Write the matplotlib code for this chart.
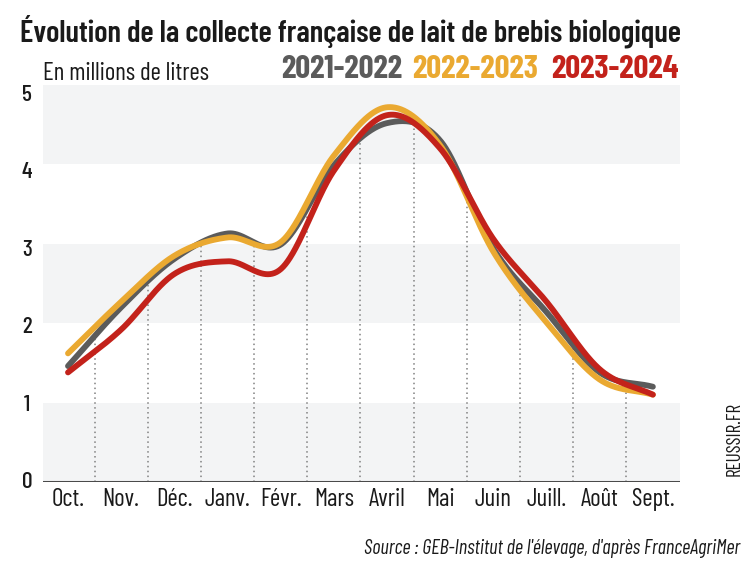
import numpy as np
import matplotlib
matplotlib.use("Agg")
import matplotlib.pyplot as plt
from matplotlib import font_manager

months = ["Oct.", "Nov.", "Déc.", "Janv.", "Févr.", "Mars", "Avril", "Mai", "Juin", "Juill.", "Août", "Sept."]
s2021 = [1.46, 2.20, 2.81, 3.13, 2.99, 3.99, 4.52, 4.30, 2.94, 2.14, 1.38, 1.20]
s2022 = [1.62, 2.27, 2.85, 3.08, 3.02, 4.11, 4.72, 4.24, 2.90, 2.01, 1.29, 1.10]
s2023 = [1.38, 1.92, 2.62, 2.78, 2.68, 3.92, 4.62, 4.20, 3.06, 2.27, 1.42, 1.10]
series_labels = ["2021-2022", "2022-2023", "2023-2024"]
colors = ["#5b5b5b", "#eaa931", "#c3221b"]
yticks = [0, 1, 2, 3, 4, 5]

names = {f.name for f in font_manager.fontManager.ttflist}
FONT = "Barlow Condensed" if "Barlow Condensed" in names else "DejaVu Sans"


def catmull_rom(x, y, xs):
    x = np.asarray(x, float); y = np.asarray(y, float)
    n = len(x)
    m = np.zeros(n)
    m[1:-1] = (y[2:] - y[:-2]) / (x[2:] - x[:-2])
    m[0] = (y[1] - y[0]) / (x[1] - x[0])
    m[-1] = (y[-1] - y[-2]) / (x[-1] - x[-2])
    out = np.empty(len(xs))
    for k, t in enumerate(xs):
        i = min(max(np.searchsorted(x, t) - 1, 0), n - 2)
        h = x[i + 1] - x[i]
        s = (t - x[i]) / h
        h00 = 2 * s**3 - 3 * s**2 + 1
        h10 = s**3 - 2 * s**2 + s
        h01 = -2 * s**3 + 3 * s**2
        h11 = s**3 - s**2
        out[k] = h00 * y[i] + h10 * h * m[i] + h01 * y[i + 1] + h11 * h * m[i + 1]
    return out


fig = plt.figure(figsize=(7.47, 5.61), dpi=100)
ax = fig.add_axes([43 / 747, 1 - 482 / 561, (680 - 43) / 747, (482 - 85) / 561])
ax.set_xlim(-0.47, 11.51)
ax.set_ylim(0, 5)

for lo in [0, 2, 4]:
    ax.axhspan(lo, lo + 1, color="#f3f4f5", lw=0, zorder=0)

xi = np.arange(len(months))
xs = np.linspace(0, len(months) - 1, 800)

mids = xi[:-1] + 0.5
mid_vals = catmull_rom(xi, s2021, mids)
for m, v in zip(mids, mid_vals):
    ax.plot([m, m], [0, v], ls=(0, (1, 2.2)), color="#808080", lw=1.1, zorder=1)

for data, col in zip([s2021, s2022, s2023], colors):
    ax.plot(xs, catmull_rom(xi, data, xs), color=col, lw=4.2,
            solid_capstyle="round", zorder=3)

for s in ax.spines.values():
    s.set_visible(False)
ax.axhline(0, color="#4a4a4a", lw=2.2, zorder=4)
ax.set_xticks([]); ax.set_yticks([])

for i, m in enumerate(months):
    ax.text(i, -0.08, m, ha="center", va="top", fontsize=18, family=FONT, color="#1a1a1a")

for t in yticks:
    ax.text(-0.77, t * 0.975, str(t), ha="center", va="center", fontsize=17,
            family=FONT, fontweight="medium", color="#1a1a1a")

fig.text(20 / 747, 1 - 31 / 561, "Évolution de la collecte française de lait de brebis biologique",
         fontsize=22.2, family=FONT, fontweight="semibold", color="#1a1a1a", va="center", ha="left")
fig.text(43 / 747, 1 - 73 / 561, "En millions de litres", fontsize=18, family=FONT,
         color="#1a1a1a", va="center", ha="left")
xpos = [281, 412, 551]
for xp, lab, col in zip(xpos, series_labels, colors):
    fig.text(xp / 747, 1 - 69 / 561, lab, fontsize=23.5, family=FONT, fontweight="bold",
             color=col, va="center", ha="left")

fig.text(735 / 747, 1 - 439 / 561, "REUSSIR.FR", rotation=90, fontsize=13.8, family=FONT,
         color="#1a1a1a", va="center", ha="center")
fig.text(740 / 747, 1 - 549 / 561, "Source : GEB-Institut de l'élevage, d'après FranceAgriMer",
         fontsize=14.6, family=FONT, style="italic", color="#1a1a1a", va="center", ha="right")

fig.savefig("out.png", dpi=100, facecolor="white")
